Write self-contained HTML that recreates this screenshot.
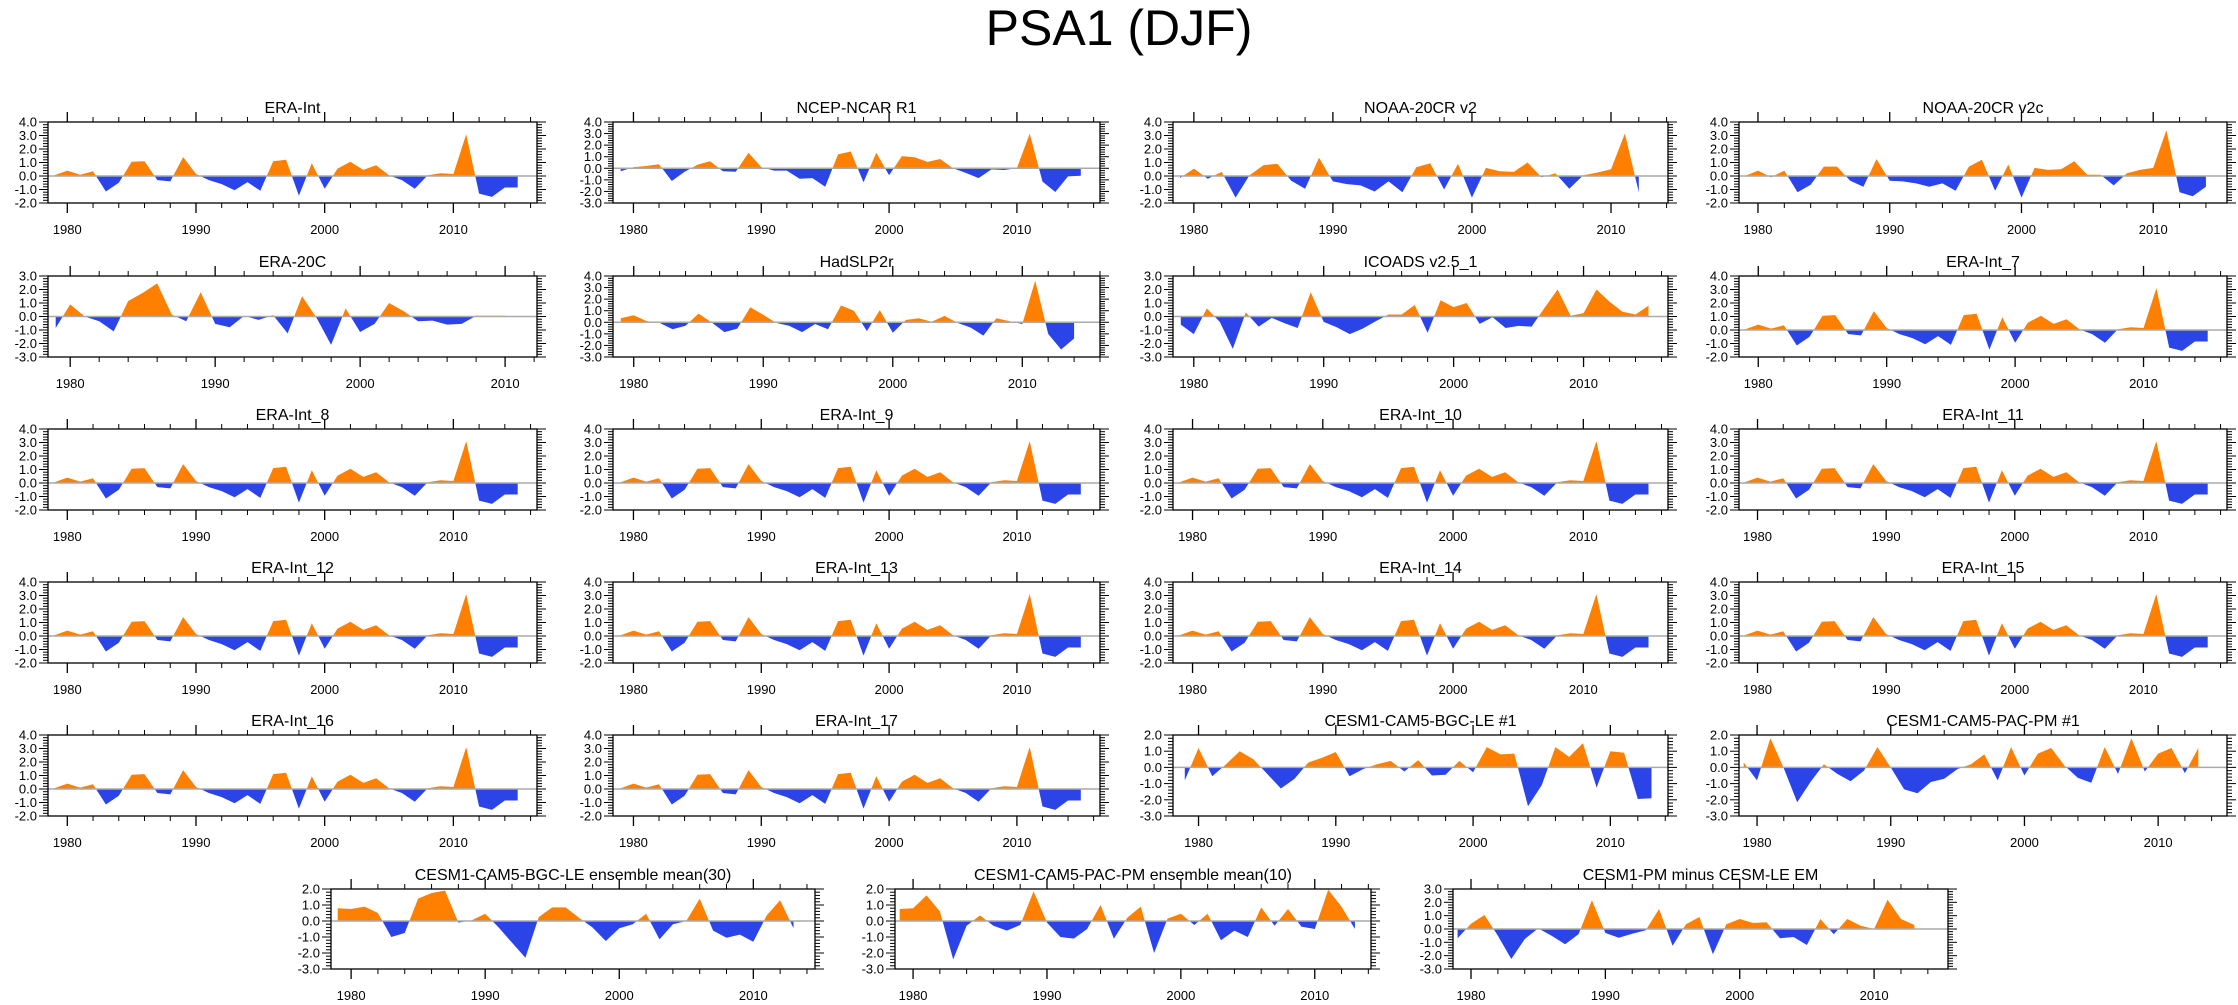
<!DOCTYPE html>
<html><head><meta charset="utf-8"><style>
html,body{margin:0;padding:0;background:#fff;}
svg{display:block;font-family:"Liberation Sans",sans-serif;}
</style></head><body>
<svg id="chart" width="2238" height="1005" viewBox="0 0 2238 1005" xmlns="http://www.w3.org/2000/svg">
<text x="1119" y="45" text-anchor="middle" font-size="50">PSA1 (DJF)</text>
</svg>
<script>
// ---- data (all series start in 1979) ----
const eraInt = [0.05,0.4,0.1,0.35,-1.15,-0.5,1.05,1.1,-0.3,-0.4,1.4,0.15,-0.3,-0.6,-1.05,-0.45,-1.1,1.1,1.2,-1.45,0.95,-0.95,0.55,1.05,0.45,0.8,0.05,-0.3,-0.95,0.05,0.2,0.15,3.1,-1.3,-1.55,-0.85,-0.85];
const ncep = [-0.25,0.1,0.2,0.35,-1.1,-0.3,0.3,0.6,-0.25,-0.3,1.35,0.1,-0.2,-0.2,-0.9,-0.85,-1.6,1.2,1.45,-1.2,1.35,-0.6,1.05,0.95,0.55,0.8,0.0,-0.4,-0.85,-0.1,-0.15,0.0,3.0,-1.15,-2.05,-0.7,-0.65];
const noaaV2 = [-0.15,0.55,-0.2,0.3,-1.6,0.05,0.8,0.9,-0.35,-0.95,1.35,-0.4,-0.6,-0.7,-1.15,-0.4,-1.2,0.65,0.95,-1.0,0.9,-1.6,0.6,0.35,0.3,1.0,-0.1,0.2,-0.95,0.05,0.25,0.5,3.15,-1.2];
const noaaV2c = [0.0,0.4,-0.1,0.4,-1.2,-0.65,0.7,0.7,-0.35,-0.8,1.25,-0.35,-0.4,-0.55,-0.8,-0.55,-1.1,0.7,1.2,-1.1,0.85,-1.6,0.6,0.45,0.5,1.1,0.1,0.1,-0.7,0.2,0.45,0.6,3.4,-1.2,-1.5,-0.8];
const era20c = [-0.85,0.9,0.0,-0.35,-1.1,1.15,1.75,2.45,0.15,-0.35,1.8,-0.55,-0.8,0.05,-0.25,0.1,-1.25,1.5,-0.1,-2.1,0.6,-1.15,-0.55,1.0,0.4,-0.35,-0.3,-0.6,-0.55,0.05,0.05,0.05];
const hadslp = [0.35,0.6,0.1,-0.05,-0.6,-0.3,0.75,0.0,-0.85,-0.55,1.3,0.65,-0.05,-0.3,-0.85,-0.15,-0.6,1.45,1.0,-0.75,1.05,-0.9,0.2,0.35,0.05,0.55,-0.05,-0.45,-1.15,0.35,0.1,-0.15,3.6,-1.0,-2.35,-1.4];
const icoads = [-0.6,-1.3,0.6,-0.4,-2.4,0.3,-0.75,-0.1,-0.5,-0.85,1.8,-0.4,-0.8,-1.3,-0.9,-0.35,0.15,0.15,0.85,-1.2,1.2,0.7,1.0,-0.55,-0.05,-0.85,-0.7,-0.75,0.65,2.0,0.05,0.25,2.0,1.1,0.35,0.15,0.8];
const bgc1 = [-0.8,1.2,-0.55,0.2,1.0,0.5,-0.4,-1.3,-0.7,0.3,0.6,0.95,-0.55,-0.1,0.2,0.4,-0.25,0.45,-0.5,-0.45,0.4,-0.3,1.25,0.8,0.85,-2.4,-1.1,1.25,0.65,1.5,-1.25,1.0,0.9,-1.95,-1.9];
const pac1 = [0.3,-0.8,1.8,-0.05,-2.15,-0.9,0.2,-0.4,-0.85,-0.2,1.25,0.0,-1.35,-1.6,-0.9,-0.7,-0.1,0.2,0.8,-0.8,1.25,-0.5,0.85,1.2,0.1,-0.65,-0.95,1.25,-0.4,1.8,-0.25,0.85,1.2,-0.35,1.2];
const bgcEM = [0.8,0.75,0.9,0.5,-1.0,-0.75,1.4,1.75,1.9,-0.1,0.05,0.45,-0.4,-1.35,-2.3,0.25,0.85,0.85,0.2,-0.4,-1.25,-0.45,-0.2,0.45,-1.15,-0.2,0.0,1.4,-0.6,-1.05,-0.85,-1.3,0.35,1.3,-0.45];
const pacEM = [0.75,0.8,1.6,0.6,-2.4,-0.3,0.35,-0.3,-0.6,-0.25,1.85,-0.1,-1.0,-1.1,-0.5,1.0,-1.1,0.2,0.9,-2.0,0.15,0.45,-0.25,0.45,-1.2,-0.6,-1.0,0.85,-0.3,0.75,-0.35,-0.5,1.95,0.9,-0.5];
const pmMinusLe = [-0.7,0.4,1.05,-0.5,-2.25,-0.75,0.05,-0.5,-1.15,-0.4,2.15,-0.3,-0.65,-0.35,-0.1,1.5,-1.25,0.35,0.9,-1.9,0.35,0.75,0.45,0.5,-0.7,-0.6,-1.2,0.75,-0.4,0.75,0.25,0.0,2.2,0.75,0.3];
const startYear = 1979;
const titles = ["ERA-Int","NCEP-NCAR R1","NOAA-20CR v2","NOAA-20CR v2c","ERA-20C","HadSLP2r","ICOADS v2.5_1","ERA-Int_7","ERA-Int_8","ERA-Int_9","ERA-Int_10","ERA-Int_11","ERA-Int_12","ERA-Int_13","ERA-Int_14","ERA-Int_15","ERA-Int_16","ERA-Int_17","CESM1-CAM5-BGC-LE #1","CESM1-CAM5-PAC-PM #1","CESM1-CAM5-BGC-LE ensemble mean(30)","CESM1-CAM5-PAC-PM ensemble mean(10)","CESM1-PM minus CESM-LE EM"];
const seriesList = [eraInt,ncep,noaaV2,noaaV2c,era20c,hadslp,icoads,eraInt,eraInt,eraInt,eraInt,eraInt,eraInt,eraInt,eraInt,eraInt,eraInt,eraInt,bgc1,pac1,bgcEM,pacEM,pmMinusLe];
const yMaxes = [4,4,4,4,3,4,3,4,4,4,4,4,4,4,4,4,4,4,2,2,2,2,3];
const yMins  = [-2,-3,-2,-2,-3,-3,-3,-2,-2,-2,-2,-2,-2,-2,-2,-2,-2,-2,-3,-3,-3,-3,-3];
const xMins  = [1978.5,1978.4,1978.5,1978.56,1978.47,1978.4,1978.4,1978.5,1978.5,1978.4,1978.5,1978.56,1978.5,1978.4,1978.5,1978.56,1978.5,1978.4,1978.14,1978.65,1978.5,1978.65,1978.66];
const xMaxes = [2016.5,2016.5,2014.1,2015.6,2012.2,2016.0,2016.5,2016.5,2016.5,2016.5,2016.5,2016.5,2016.5,2016.5,2016.5,2016.5,2016.5,2016.5,2014.2,2015.15,2014.6,2014.2,2015.5];

// ---- layout ----
const colL = [48,613,1173,1739], colR = [537,1100,1668,2227];
const rowT = [122,276,429,582,735];
const row6L = [331,895,1453], row6R = [815,1371,1948];
const NS = "http://www.w3.org/2000/svg";
const svg = document.getElementById('chart');
function mk(tag, attrs, parent){const e=document.createElementNS(NS,tag);for(const k in attrs)e.setAttribute(k,attrs[k]);(parent||svg).appendChild(e);return e;}

titles.forEach((title,i)=>{
  let L,R,T,H=81;
  if(i<20){L=colL[i%4];R=colR[i%4];T=rowT[Math.floor(i/4)];}
  else{L=row6L[i-20];R=row6R[i-20];T=889;H=80;}
  const vals=seriesList[i], ymin=yMins[i], ymax=yMaxes[i], xmin=xMins[i], xmax=xMaxes[i];
  const xs=v=>L+(v-xmin)/(xmax-xmin)*(R-L);
  const ys=v=>T+(ymax-v)/(ymax-ymin)*H;
  const g=mk('g',{});
  
  
  const t=mk('text',{x:(L+R)/2,y:T-9,'text-anchor':'middle','font-size':16},g);
  t.textContent=title;
  
  
  const y0=ys(0);
  let pts=xs(startYear).toFixed(1)+','+y0.toFixed(1);
  vals.forEach((v,k)=>{pts+=' '+xs(startYear+k).toFixed(1)+','+ys(v).toFixed(1);});
  pts+=' '+xs(startYear+vals.length-1).toFixed(1)+','+y0.toFixed(1);
  const cpA=mk('clipPath',{id:'ca'+i},g); mk('rect',{x:L,y:T,width:R-L,height:y0-T},cpA);
  const cpB=mk('clipPath',{id:'cb'+i},g); mk('rect',{x:L,y:y0,width:R-L,height:T+H-y0},cpB);
  const pa=mk('polygon',{points:pts,fill:'#ff8000','clip-path':'url(#ca'+i+')'},g);
  
  
  const pb=mk('polygon',{points:pts,fill:'#2a44e8','clip-path':'url(#cb'+i+')'},g);
  
  
  const zl=mk('line',{x1:L,x2:R,y1:y0,y2:y0,stroke:'#aaa','stroke-width':1.5},g);
  
  
  const fr=mk('rect',{x:L,y:T,width:R-L,height:H,fill:'none',stroke:'#000','stroke-width':1.3},g);
  
  
  // y ticks
  for(let v=Math.round(ymin*5);v<=ymax*5;v++){
    const yy=ys(v/5), major=(v%5===0), len=major?9:5;
    mk('line',{x1:L-len,x2:L,y1:yy,y2:yy,stroke:'#000','stroke-width':1},g);
    mk('line',{x1:R,x2:R+len,y1:yy,y2:yy,stroke:'#000','stroke-width':1},g);
    if(major){
      const lb=mk('text',{x:L-11,y:yy+4.5,'text-anchor':'end','font-size':13},g);
      lb.textContent=(v/5).toFixed(1);
      
      
    }
  }
  // x ticks
  for(let yr=Math.ceil(xmin);yr<=xmax;yr++){
    if(yr%2!==0)continue;
    const xx=xs(yr), major=(yr%10===0), len=major?10:5;
    mk('line',{x1:xx,x2:xx,y1:T-len,y2:T,stroke:'#000','stroke-width':major?1.3:1},g);
    mk('line',{x1:xx,x2:xx,y1:T+H,y2:T+H+len,stroke:'#000','stroke-width':major?1.3:1},g);
    if(major){
      const lb=mk('text',{x:xx,y:T+H+31,'text-anchor':'middle','font-size':13},g);
      lb.textContent=yr;
      
      
    }
  }
});
</script>
</body></html>
